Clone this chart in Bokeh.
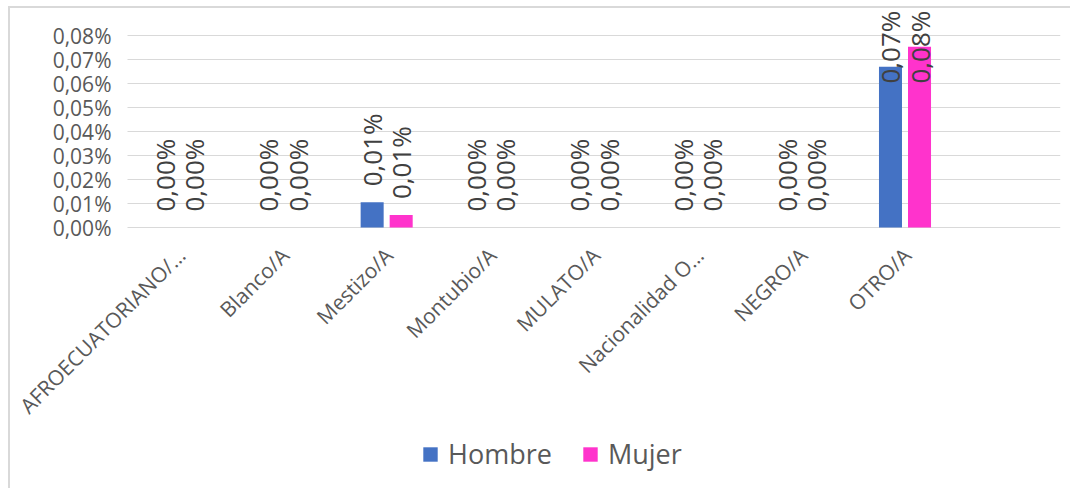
import math
from bokeh.plotting import figure
from bokeh.models import ColumnDataSource, LabelSet, Legend, LegendItem, Range1d
from bokeh.core.properties import value
from bokeh.embed import file_html
from bokeh.resources import INLINE

categories = ["AFROECUATORIANO/…", "Blanco/A", "Mestizo/A", "Montubio/A", "MULATO/A",
              "Nacionalidad O…", "NEGRO/A", "OTRO/A"]
hombre = [0.0, 0.0, 0.0105, 0.0, 0.0, 0.0, 0.0, 0.067]
mujer = [0.0, 0.0, 0.0052, 0.0, 0.0, 0.0, 0.0, 0.0753]
y_ticks = [0.00, 0.01, 0.02, 0.03, 0.04, 0.05, 0.06, 0.07, 0.08]
series_names = ["Hombre", "Mujer"]
colors = ["#4472C4", "#FF33CC"]

FONT = value("Open Sans")
N_SLOTS = 9                 # 8 categories + one empty slot (as in the original)
PX = 2400.0                 # pixels per data unit (0.01% = 24px)
SLOT_PX = 933 / N_SLOTS     # pixels per category slot
LEFT_PAD_PX = 117           # room for y labels inside the frame
ABOVE, BELOW = 217, 259     # frame pixels above / below the zero line
FW = LEFT_PAD_PX + 933
BL, BR, BT, BB = 0, 10, 2, 2

x_start = -LEFT_PAD_PX / SLOT_PX
y_end = ABOVE / PX
y_start = -BELOW / PX

def fmt(v):
    return ("%.2f" % v).replace(".", ",") + "%"

def label_y(v):
    start = v + 16 / PX
    max_start = (212 - 68) / PX
    return min(start, max_start)

off = 0.14
bw = 0.222
centers = [i + 0.5 for i in range(len(categories))]

src = ColumnDataSource(dict(
    cat=categories,
    xc=centers,
    xh=[c - off for c in centers],
    xm=[c + off for c in centers],
    hombre=hombre,
    mujer=mujer,
    hombre_lbl=[fmt(v) for v in hombre],
    mujer_lbl=[fmt(v) for v in mujer],
    hombre_ly=[label_y(v) for v in hombre],
    mujer_ly=[label_y(v) for v in mujer],
    base=[0.0] * len(categories),
))

grid_src = ColumnDataSource(dict(
    y=y_ticks,
    x0=[0.0] * len(y_ticks),
    x1=[float(N_SLOTS)] * len(y_ticks),
    lbl=[fmt(t) for t in y_ticks],
))

p = figure(x_range=Range1d(x_start, N_SLOTS), y_range=Range1d(y_start, y_end),
           frame_width=FW, frame_height=ABOVE + BELOW, output_backend="svg",
           toolbar_location=None,
           min_border_left=BL, min_border_right=BR, min_border_top=BT, min_border_bottom=BB)
p.styles = {"border-top": "2px solid #d9d9d9", "border-left": "2px solid #d9d9d9",
            "margin-left": "8px", "margin-top": "6px"}
p.outline_line_color = None
p.background_fill_color = "white"
p.border_fill_color = "white"
p.xaxis.visible = False
p.yaxis.visible = False
p.xgrid.grid_line_color = None
p.ygrid.grid_line_color = None

# horizontal gridlines
p.segment(x0="x0", y0="y", x1="x1", y1="y", source=grid_src,
          line_color="#d9d9d9", line_width=1)

# y tick labels
p.add_layout(LabelSet(x="x0", y="y", text="lbl", source=grid_src, x_offset=-16,
                      text_align="right", text_baseline="middle",
                      text_font=FONT, text_font_size="21px", text_color="#595959"))

r1 = p.vbar(x="xh", top="hombre", width=bw, source=src,
            fill_color=colors[0], line_color=None)
r2 = p.vbar(x="xm", top="mujer", width=bw, source=src,
            fill_color=colors[1], line_color=None)

for xcol, ycol, tcol in [("xh", "hombre_ly", "hombre_lbl"), ("xm", "mujer_ly", "mujer_lbl")]:
    p.add_layout(LabelSet(x=xcol, y=ycol, text=tcol, source=src,
                          angle=math.pi / 2, text_align="left", text_baseline="middle",
                          text_font=FONT, text_font_size="26px", text_color="#404040"))

# category labels (rotated 45°, ending at each category's centre)
p.add_layout(LabelSet(x="xc", y="base", text="cat", source=src, angle=math.pi / 4,
                      x_offset=2, y_offset=-24, text_align="right", text_baseline="middle",
                      text_font=FONT, text_font_size="21px", text_color="#595959"))

legend = Legend(items=[LegendItem(label=series_names[0], renderers=[r1]),
                       LegendItem(label=series_names[1], renderers=[r2])],
                location=(411, 14), orientation="horizontal",
                glyph_width=18, glyph_height=18, label_standoff=9, spacing=29,
                padding=0, margin=0, border_line_color=None, background_fill_alpha=0,
                label_text_font="Open Sans", label_text_font_size="27px",
                label_text_color="#595959")
p.add_layout(legend, "center")

open("out.html", "w").write(file_html(p, INLINE))
